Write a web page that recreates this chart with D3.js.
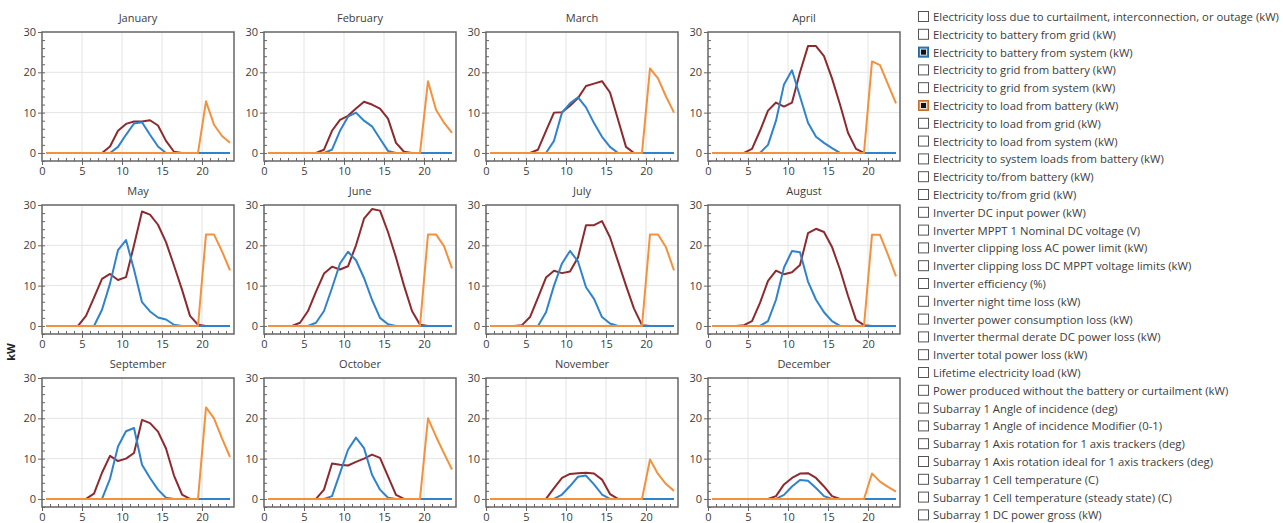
<!DOCTYPE html>
<html>
<head>
<meta charset="utf-8">
<script src="https://cdn.jsdelivr.net/npm/d3@7"></script>
<style>
    body { margin: 0; background: #ffffff; }
    text { font-family: "Open Sans", "Noto Sans", sans-serif; }
</style>
</head>
<body>
<div id="wrapper"></div>
<script>
// Data
const MONTHS = ["January", "February", "March", "April", "May", "June",
    "July", "August", "September", "October", "November", "December"];
const HOURS = d3.range(24);

// Electricity to battery from system (kW)
const batteryFromSystem = [
    [0,0,0,0,0,0,0,0,0,1.5,4.5,7.3,7.6,4.5,1.6,0,0,0,0,0,0,0,0,0],
    [0,0,0,0,0,0,0,0,0.8,5.5,9,10,8,6.6,3.5,0.5,0,0,0,0,0,0,0,0],
    [0,0,0,0,0,0,0,0,3,10,12.3,13.8,11.3,7.4,4,1.5,0,0,0,0,0,0,0,0],
    [0,0,0,0,0,0,0,2,8,17,20.5,14,7.5,4,2.5,1.2,0,0,0,0,0,0,0,0],
    [0,0,0,0,0,0,0,4,10.5,18.8,21.3,14,5.9,3.6,2.1,1.6,0.3,0,0,0,0,0,0,0],
    [0,0,0,0,0,0,0.8,3.7,9.4,15.5,18.4,16.3,11.9,6.5,2,0.4,0,0,0,0,0,0,0,0],
    [0,0,0,0,0,0,0,3.4,10,15.5,18.6,16,9.6,6.7,2.2,0.6,0,0,0,0,0,0,0,0],
    [0,0,0,0,0,0,0,1.2,6.5,14.5,18.6,18.3,11,6.5,3.4,1.2,0,0,0,0,0,0,0,0],
    [0,0,0,0,0,0,0,0,5,13,16.8,17.6,8.5,5.2,2.3,0.3,0,0,0,0,0,0,0,0],
    [0,0,0,0,0,0,0,0,0.7,6.4,12.2,15.2,12.6,6,2.3,0.3,0,0,0,0,0,0,0,0],
    [0,0,0,0,0,0,0,0,0,1.1,3.2,5.5,5.8,3.6,1.1,0,0,0,0,0,0,0,0,0],
    [0,0,0,0,0,0,0,0,0,1,3.1,4.7,4.5,2.7,0.7,0,0,0,0,0,0,0,0,0]
];

// Electricity to load from battery (kW)
const loadFromBattery = [
    [0,0,0,0,0,0,0,0,0,0,0,0,0,0,0,0,0,0,0,0,12.8,7,4.2,2.5],
    [0,0,0,0,0,0,0,0,0,0,0,0,0,0,0,0,0,0,0,0,17.8,10.7,7.5,5],
    [0,0,0,0,0,0,0,0,0,0,0,0,0,0,0,0,0,0,0,0,21,18.5,14,10],
    [0,0,0,0,0,0,0,0,0,0,0,0,0,0,0,0,0,0,0,0,22.7,21.8,17,12.3],
    [0,0,0,0,0,0,0,0,0,0,0,0,0,0,0,0,0,0,0,0,22.7,22.7,18.5,13.8],
    [0,0,0,0,0,0,0,0,0,0,0,0,0,0,0,0,0,0,0,0,22.7,22.7,19.8,14.3],
    [0,0,0,0,0,0,0,0,0,0,0,0,0,0,0,0,0,0,0,0,22.7,22.7,19.5,13.8],
    [0,0,0,0,0,0,0,0,0,0,0,0,0,0,0,0,0,0,0,0,22.6,22.6,17.6,12.3],
    [0,0,0,0,0,0,0,0,0,0,0,0,0,0,0,0,0,0,0,0,22.7,20,15,10.4],
    [0,0,0,0,0,0,0,0,0,0,0,0,0,0,0,0,0,0,0,0,20,15.5,11.3,7.3],
    [0,0,0,0,0,0,0,0,0,0,0,0,0,0,0,0,0,0,0,0,9.8,6.2,3.7,2],
    [0,0,0,0,0,0,0,0,0,0,0,0,0,0,0,0,0,0,0,0,6.3,4.3,3,1.8]
];

// Third (dark red) series
const thirdSeries = [
    [0,0,0,0,0,0,0,0,1.6,5.5,7.2,7.8,7.8,8.1,6.8,3,0.3,0,0,0,0,0,0,0],
    [0,0,0,0,0,0,0,0.8,5.5,8.2,9.2,11,12.7,12,11,8.5,2.5,0.3,0,0,0,0,0,0],
    [0,0,0,0,0,0,0.8,5.5,10,10.1,11.7,13.6,16.6,17.2,17.8,15,8.3,1.5,0,0,0,0,0,0],
    [0,0,0,0,0,1,5.5,10.5,12.5,11.5,12.5,20,26.5,26.5,24,18.5,12,5,1,0,0,0,0,0],
    [0,0,0,0,0,2.5,7,11.7,12.9,11.4,12.1,20,28.4,27.6,25.1,20.8,15,9,2.5,0.3,0,0,0,0],
    [0,0,0,0,0.8,3.7,8.5,13,14.7,14,14.8,20,26.6,29,28.6,23.3,17,10,3.7,0.3,0,0,0,0],
    [0,0,0,0,0.2,2.2,7,12,13.7,13.1,13.5,17,25,25,26,22,16,10,4.3,0.2,0,0,0,0],
    [0,0,0,0,0.2,1.2,5.7,11.2,13.7,12.8,13.3,15.1,23,24.1,23.3,19.6,14,7.5,1.5,0.2,0,0,0,0],
    [0,0,0,0,0,0,1.3,6.5,10.7,9.4,10,11.4,19.6,18.8,16.7,12.5,5.8,1.1,0,0,0,0,0,0],
    [0,0,0,0,0,0,0,2.3,8.8,8.5,8.3,9.2,10,11,10.2,5.6,1,0,0,0,0,0,0,0],
    [0,0,0,0,0,0,0,0,2.7,5.2,6.2,6.4,6.5,6.3,4.8,1.2,0,0,0,0,0,0,0,0],
    [0,0,0,0,0,0,0,0,0.7,3.6,5.2,6.3,6.4,5.2,3.1,0.7,0,0,0,0,0,0,0,0]
];

const X_TICKS = [0, 5, 10, 15, 20];
const Y_TICKS = [0, 10, 20, 30];

const LEGEND_ITEMS = [
    "Electricity loss due to curtailment, interconnection, or outage (kW)",
    "Electricity to battery from grid (kW)",
    "Electricity to battery from system (kW)",
    "Electricity to grid from battery (kW)",
    "Electricity to grid from system (kW)",
    "Electricity to load from battery (kW)",
    "Electricity to load from grid (kW)",
    "Electricity to load from system (kW)",
    "Electricity to system loads from battery (kW)",
    "Electricity to/from battery (kW)",
    "Electricity to/from grid (kW)",
    "Inverter DC input power (kW)",
    "Inverter MPPT 1 Nominal DC voltage (V)",
    "Inverter clipping loss AC power limit (kW)",
    "Inverter clipping loss DC MPPT voltage limits (kW)",
    "Inverter efficiency (%)",
    "Inverter night time loss (kW)",
    "Inverter power consumption loss (kW)",
    "Inverter thermal derate DC power loss (kW)",
    "Inverter total power loss (kW)",
    "Lifetime electricity load (kW)",
    "Power produced without the battery or curtailment (kW)",
    "Subarray 1 Angle of incidence (deg)",
    "Subarray 1 Angle of incidence Modifier (0-1)",
    "Subarray 1 Axis rotation for 1 axis trackers (deg)",
    "Subarray 1 Axis rotation ideal for 1 axis trackers (deg)",
    "Subarray 1 Cell temperature (C)",
    "Subarray 1 Cell temperature (steady state) (C)",
    "Subarray 1 DC power gross (kW)"
];
const LEGEND_CHECKED = {
    "Electricity to battery from system (kW)": "#2f7fc8",
    "Electricity to load from battery (kW)": "#f08a36"
};

// Constants
const COLORS = {
    third: "#8c2a2e",
    blue: "#2f83cc",
    orange: "#f3913d",
    frame: "#666666",
    grid: "#e4e4e4",
    text: "#3c3c3c"
};
const WIDTH = 1283;
const HEIGHT = 523;

const panel = {
    left: 42,
    top: 32,
    colStep: 222,
    rowStep: 173,
    width: 192,
    height: 129
};

// Accessors
const xAccessor = d => d.hour + 0.5;
const yAccessor = d => d.value;

function drawChart() {
    const wrapper = d3.select("#wrapper")
        .append("svg")
        .attr("width", WIDTH)
        .attr("height", HEIGHT);

    const xScale = d3.scaleLinear()
        .domain([0, 24])
        .range([0, panel.width]);

    const yScale = d3.scaleLinear()
        .domain([-2, 30])
        .range([panel.height, 0]);

    const lineGenerator = d3.line()
        .x(d => xScale(xAccessor(d)))
        .y(d => yScale(yAccessor(d)));

    const toPoints = values => HOURS.map(h => ({ hour: h, value: values[h] }));

    MONTHS.forEach((month, i) => {
        const col = i % 4;
        const row = Math.floor(i / 4);
        const bounds = wrapper.append("g")
            .attr("transform", `translate(${panel.left + col * panel.colStep}, ${panel.top + row * panel.rowStep})`);

        // grid
        bounds.append("g")
            .selectAll("line")
            .data(X_TICKS.slice(1))
            .join("line")
            .attr("x1", d => xScale(d)).attr("x2", d => xScale(d))
            .attr("y1", 0).attr("y2", panel.height)
            .attr("stroke", COLORS.grid);
        bounds.append("g")
            .selectAll("line")
            .data(Y_TICKS.slice(1, 3))
            .join("line")
            .attr("x1", 0).attr("x2", panel.width)
            .attr("y1", d => yScale(d)).attr("y2", d => yScale(d))
            .attr("stroke", COLORS.grid);

        // series
        [[thirdSeries, COLORS.third], [batteryFromSystem, COLORS.blue], [loadFromBattery, COLORS.orange]]
            .forEach(([series, color]) => {
                bounds.append("path")
                    .datum(toPoints(series[i]))
                    .attr("d", lineGenerator)
                    .attr("fill", "none")
                    .attr("stroke", color)
                    .attr("stroke-width", 2)
                    .attr("stroke-linejoin", "round");
            });

        // axes
        const xAxisMajor = d3.axisBottom(xScale).tickValues(X_TICKS).tickSize(4).tickPadding(2);
        const xAxisMinor = d3.axisTop(xScale).tickValues(d3.range(1, 24)).tickSize(3).tickFormat("");
        const yAxisMajor = d3.axisLeft(yScale).tickValues(Y_TICKS).tickSize(4).tickPadding(2);
        const yAxisMinor = d3.axisRight(yScale).tickValues(d3.range(-2, 30, 2)).tickSize(3).tickFormat("");

        const xg = bounds.append("g").attr("transform", `translate(0, ${panel.height})`).call(xAxisMajor);
        bounds.append("g").attr("transform", `translate(0, ${panel.height})`).call(xAxisMinor);
        const yg = bounds.append("g").call(yAxisMajor);
        bounds.append("g").call(yAxisMinor);

        bounds.selectAll(".domain").remove();
        bounds.selectAll(".tick line").attr("stroke", COLORS.frame);
        [xg, yg].forEach(g => g.selectAll("text")
            .attr("fill", COLORS.text)
            .style("font-size", "11px"));

        // frame
        bounds.append("rect")
            .attr("width", panel.width)
            .attr("height", panel.height)
            .attr("fill", "none")
            .attr("stroke", COLORS.frame)
            .attr("stroke-width", 1.5);

        // title
        bounds.append("text")
            .attr("x", panel.width / 2)
            .attr("y", -10)
            .attr("text-anchor", "middle")
            .attr("fill", COLORS.text)
            .style("font-size", "11px")
            .text(month);
    });

    // y label
    wrapper.append("text")
        .attr("transform", "translate(15, 352) rotate(-90)")
        .attr("text-anchor", "middle")
        .attr("fill", "#222")
        .style("font-size", "11px")
        .style("font-weight", "bold")
        .text("kW");

    // legend
    const legend = wrapper.append("g")
        .attr("transform", "translate(918, 17)");
    const items = legend.selectAll("g")
        .data(LEGEND_ITEMS)
        .join("g")
        .attr("transform", (d, i) => `translate(0, ${i * 17.8})`);

    items.append("rect")
        .attr("x", 0.5).attr("y", -5.5)
        .attr("width", 10).attr("height", 10)
        .attr("fill", d => LEGEND_CHECKED[d] || "#ffffff")
        .attr("stroke", d => LEGEND_CHECKED[d] ? d3.color(LEGEND_CHECKED[d]).darker(0.6) : "#555555");
    items.filter(d => LEGEND_CHECKED[d])
        .append("rect")
        .attr("x", 2.5).attr("y", -3.5)
        .attr("width", 6).attr("height", 6)
        .attr("fill", "#111")
        .attr("stroke", "#ffffff")
        .attr("stroke-width", 0.8);
    items.append("text")
        .attr("x", 15)
        .attr("y", 4)
        .attr("fill", COLORS.text)
        .style("font-size", "11.3px")
        .text(d => d);
}
drawChart();
</script>
</body>
</html>
